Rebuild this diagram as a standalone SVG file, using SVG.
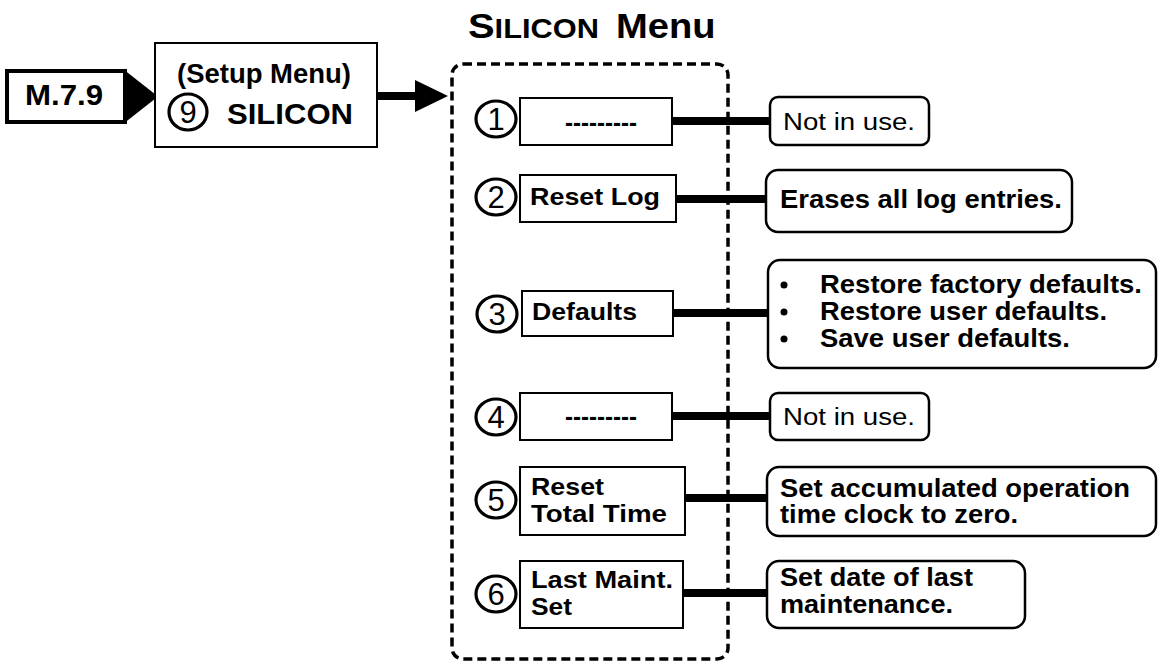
<svg xmlns="http://www.w3.org/2000/svg" width="1158" height="664" viewBox="0 0 1158 664">
<style>
.b{font-family:"Liberation Sans",Arial,sans-serif;font-weight:bold;fill:#000}
.r{font-family:"Liberation Sans",Arial,sans-serif;font-weight:normal;fill:#000}
.box{fill:#fff;stroke:#000;stroke-width:2}
.rbox{fill:#fff;stroke:#000;stroke-width:2.5}
.num{fill:none;stroke:#000;stroke-width:3.2}
.conn{stroke:#000;stroke-width:8;fill:none}
.dig{font-family:"Liberation Sans",Arial,sans-serif;font-size:31px;text-anchor:middle;fill:#000}
</style>
<rect width="1158" height="664" fill="#fff"/>

<g id="title">
<text class="b" transform="translate(468,38) scale(1.14,1)"><tspan font-size="35">S</tspan><tspan font-size="27">ILICON</tspan></text>
<text class="b" font-size="35" transform="translate(616,38) scale(1.09,1)">Menu</text>
</g>

<g id="connectors">
<line class="conn" x1="376" y1="96" x2="418" y2="96" stroke-width="9"/>
<polygon points="415,80 448,96 415,112" fill="#000"/>
<line class="conn" x1="672" y1="121" x2="770" y2="121"/>
<line class="conn" x1="676" y1="199" x2="766" y2="199"/>
<line class="conn" x1="673" y1="313" x2="768" y2="313"/>
<line class="conn" x1="672" y1="416" x2="770" y2="416"/>
<line class="conn" x1="685" y1="498" x2="767" y2="498"/>
<line class="conn" x1="683" y1="593" x2="767" y2="593"/>
</g>

<g id="m79">
<rect x="7" y="71" width="118" height="51" fill="#fff" stroke="#000" stroke-width="4"/>
<polygon points="123,69 158,96.5 123,124" fill="#000"/>
<text class="b" x="25" y="105" font-size="30" textLength="78" lengthAdjust="spacingAndGlyphs">M.7.9</text>
</g>

<g id="setup">
<rect class="box" x="155" y="43" width="222" height="104"/>
<text class="b" x="177" y="83" font-size="27" textLength="174" lengthAdjust="spacingAndGlyphs">(Setup Menu)</text>
<ellipse class="num" cx="188" cy="112" rx="19" ry="18"/>
<text class="dig" x="188" y="123">9</text>
<text class="b" x="227" y="124" font-size="30" textLength="126" lengthAdjust="spacingAndGlyphs">SILICON</text>
</g>

<g id="menu-frame">
<rect x="452" y="64" width="276" height="595" rx="11" fill="none" stroke="#000" stroke-width="3.5" stroke-dasharray="9,5"/>
</g>

<g id="item1">
<ellipse class="num" cx="496" cy="119" rx="20" ry="18"/>
<text class="dig" x="496" y="130">1</text>
<rect class="box" x="520" y="98" width="152" height="47"/>
<text class="b" x="565" y="131" font-size="25" textLength="72" lengthAdjust="spacingAndGlyphs">---------</text>
</g>
<g id="item2">
<ellipse class="num" cx="496" cy="197" rx="20" ry="18"/>
<text class="dig" x="496" y="208">2</text>
<rect class="box" x="520" y="175" width="156" height="47"/>
<text class="b" x="530" y="205" font-size="24" textLength="130" lengthAdjust="spacingAndGlyphs">Reset Log</text>
</g>
<g id="item3">
<ellipse class="num" cx="497" cy="314" rx="20" ry="18"/>
<text class="dig" x="497" y="325">3</text>
<rect class="box" x="522" y="291" width="151" height="45"/>
<text class="b" x="532" y="320" font-size="24" textLength="105" lengthAdjust="spacingAndGlyphs">Defaults</text>
</g>
<g id="item4">
<ellipse class="num" cx="496" cy="417" rx="20" ry="18"/>
<text class="dig" x="496" y="428">4</text>
<rect class="box" x="520" y="393" width="152" height="47"/>
<text class="b" x="565" y="425" font-size="25" textLength="72" lengthAdjust="spacingAndGlyphs">---------</text>
</g>
<g id="item5">
<ellipse class="num" cx="496" cy="500" rx="20" ry="18"/>
<text class="dig" x="496" y="511">5</text>
<rect class="box" x="520" y="467" width="165" height="68"/>
<text class="b" x="531" y="495" font-size="24" textLength="73" lengthAdjust="spacingAndGlyphs">Reset</text>
<text class="b" x="531" y="522" font-size="24" textLength="136" lengthAdjust="spacingAndGlyphs">Total Time</text>
</g>
<g id="item6">
<ellipse class="num" cx="496" cy="594" rx="20" ry="18"/>
<text class="dig" x="496" y="605">6</text>
<rect class="box" x="520" y="561" width="163" height="67"/>
<text class="b" x="531" y="588" font-size="24" textLength="142" lengthAdjust="spacingAndGlyphs">Last Maint.</text>
<text class="b" x="531" y="615" font-size="24" textLength="41" lengthAdjust="spacingAndGlyphs">Set</text>
</g>

<g id="desc1">
<rect class="rbox" x="770" y="97" width="159" height="48" rx="8"/>
<text class="r" x="783" y="130" font-size="23" textLength="132" lengthAdjust="spacingAndGlyphs">Not in use.</text>
</g>
<g id="desc2">
<rect class="rbox" x="766" y="170" width="306" height="62" rx="12"/>
<text class="b" x="780" y="208" font-size="25" textLength="282" lengthAdjust="spacingAndGlyphs">Erases all log entries.</text>
</g>
<g id="desc3">
<rect class="rbox" x="768" y="260" width="388" height="108" rx="12"/>
<circle cx="784" cy="285" r="3.5"/>
<circle cx="784" cy="312" r="3.5"/>
<circle cx="784" cy="339" r="3.5"/>
<text class="b" x="820" y="293" font-size="25" textLength="322" lengthAdjust="spacingAndGlyphs">Restore factory defaults.</text>
<text class="b" x="820" y="320" font-size="25" textLength="287" lengthAdjust="spacingAndGlyphs">Restore user defaults.</text>
<text class="b" x="820" y="347" font-size="25" textLength="250" lengthAdjust="spacingAndGlyphs">Save user defaults.</text>
</g>
<g id="desc4">
<rect class="rbox" x="770" y="393" width="159" height="47" rx="8"/>
<text class="r" x="783" y="425" font-size="23" textLength="132" lengthAdjust="spacingAndGlyphs">Not in use.</text>
</g>
<g id="desc5">
<rect class="rbox" x="767" y="467" width="389" height="69" rx="12"/>
<text class="b" x="780" y="497" font-size="25" textLength="350" lengthAdjust="spacingAndGlyphs">Set accumulated operation</text>
<text class="b" x="780" y="523" font-size="25" textLength="238" lengthAdjust="spacingAndGlyphs">time clock to zero.</text>
</g>
<g id="desc6">
<rect class="rbox" x="767" y="561" width="258" height="67" rx="12"/>
<text class="b" x="780" y="586" font-size="25" textLength="193" lengthAdjust="spacingAndGlyphs">Set date of last</text>
<text class="b" x="780" y="613" font-size="25" textLength="173" lengthAdjust="spacingAndGlyphs">maintenance.</text>
</g>
</svg>
